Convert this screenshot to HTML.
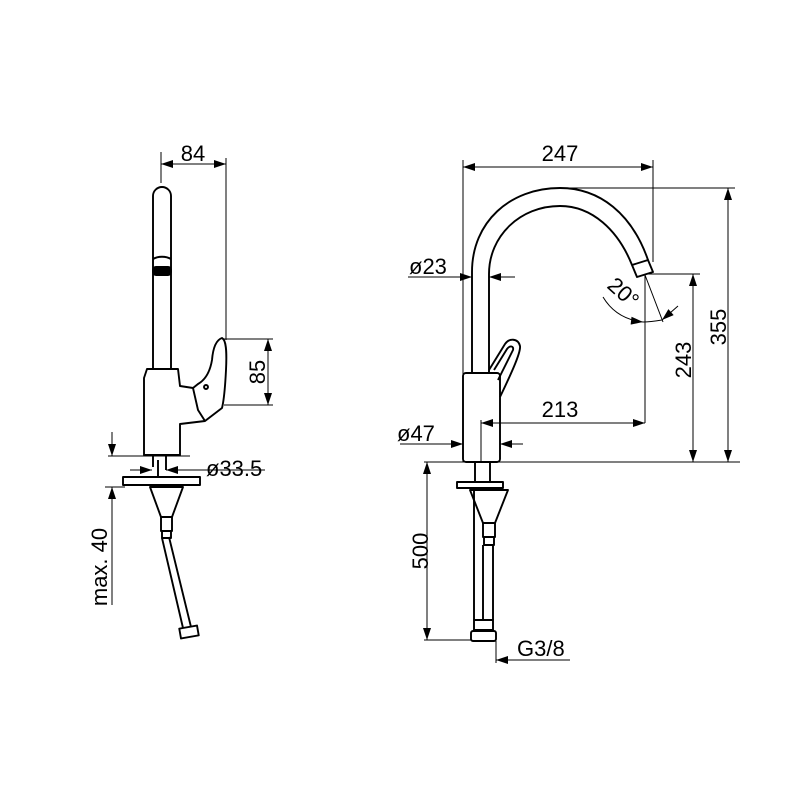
<!DOCTYPE html>
<html><head><meta charset="utf-8"><style>html,body{margin:0;padding:0;background:#fff}svg{display:block}text{font-family:"Liberation Sans",sans-serif;font-size:22px;fill:#000}</style></head>
<body>
<svg width="800" height="800" viewBox="0 0 800 800" xmlns="http://www.w3.org/2000/svg">
<defs>
<marker id="a" viewBox="0 0 12 8" refX="12" refY="4" markerWidth="13" markerHeight="8" markerUnits="userSpaceOnUse" orient="auto-start-reverse"><path d="M0,0 L12,4 L0,8 Z" fill="#000"/></marker>
</defs>
<g fill="none" stroke="#000" stroke-width="1.9" stroke-linejoin="round">
<!-- LEFT FAUCET -->
<path d="M153,369 L153,196 A9,9 0 0 1 171,196 L171,369"/>
<path d="M153,259 C158,256 166,256 171,259"/>
<rect x="153" y="267" width="18" height="8" rx="3" fill="#000"/>
<path d="M147,369 L178,369 L180,386 L193,388 L198,384 C205,380 210,372 212,360 C213,348 216,340 222,338 C226,340 227,350 226,370 C225,390 224,400 222,408 L205,421 L180,424 L180,455 L144,455 L144,378 Z"/>
<path d="M193,388 L198,410 L205,421"/>
<circle cx="206" cy="387" r="2"/>
<path d="M153,455 L153,467 M166,455 L166,470 M158,460 L158,477"/>
<rect x="123" y="477" width="77" height="8"/>
<path d="M150,487 L183,487 L172,517 L161,517 Z"/>
<rect x="161" y="517" width="11" height="14"/>
<rect x="162" y="531" width="9" height="7"/>
<path d="M162,538 L183,628 M169,537 L191,627"/>
<rect x="180" y="627" width="18" height="10" transform="rotate(-10 189 632)"/>
<!-- RIGHT FAUCET -->
<path d="M472,373 L472,272 C472,222 510,188 560,188 C600,188 632,214 648,260"/>
<path d="M489,373 L489,274 C489,236 520,206 560,206 C592,206 618,230 632,265"/>
<path d="M632,265 L648,260 L653,272 L637,277 Z"/>
<path d="M489,370 L505,344 C509,338 518,338 520,346 C521,352 512,372 500,397"/>
<path d="M494,370 L507,349 C510,345 514,346 513,350 L498,380"/>
<rect x="463" y="373" width="37" height="89" rx="3"/>
<path d="M475,462 L475,482 M490,462 L490,482"/>
<rect x="457" y="482" width="46" height="6"/>
<path d="M470,490 L508,490 L495,523 L483,523 Z"/>
<rect x="483" y="523" width="12" height="14"/>
<rect x="484" y="537" width="10" height="8"/>
<path d="M474,490 L474,620 M483,545 L483,620 M493,545 L493,620"/>
<rect x="474" y="620" width="19" height="10"/>
<rect x="471" y="631" width="25" height="10" rx="2"/>
</g>
<g fill="none" stroke="#000" stroke-width="1">
<path d="M161,152 L161,183 M226,158 L226,340"/>
<path d="M161,164 L226,164" marker-start="url(#a)" marker-end="url(#a)"/>
<path d="M222,339 L273,339 M224,405 L273,405"/>
<path d="M268,339 L268,405" marker-start="url(#a)" marker-end="url(#a)"/>
<path d="M130,470 L152,470" marker-end="url(#a)"/>
<path d="M265,470 L166,470" marker-end="url(#a)"/>
<path d="M108,456 L190,456 M105,487 L125,487"/>
<path d="M112,432 L112,456" marker-end="url(#a)"/>
<path d="M112,605 L112,487" marker-end="url(#a)"/>
<path d="M463,160 L463,462 M653,160 L653,262"/>
<path d="M463,167 L653,167" marker-start="url(#a)" marker-end="url(#a)"/>
<path d="M560,188 L735,188 M645,274 L700,274"/>
<path d="M728,188 L728,462" marker-start="url(#a)" marker-end="url(#a)"/>
<path d="M693,274 L693,462" marker-start="url(#a)" marker-end="url(#a)"/>
<path d="M645,274 L645,423 M481,420 L481,462"/>
<path d="M481,423 L645,423" marker-start="url(#a)" marker-end="url(#a)"/>
<path d="M408,277 L472,277" marker-end="url(#a)"/>
<path d="M515,277 L489,277" marker-end="url(#a)"/>
<path d="M400,444 L463,444" marker-end="url(#a)"/>
<path d="M523,444 L500,444" marker-end="url(#a)"/>
<path d="M424,462 L740,462 M424,640 L471,640"/>
<path d="M427,462 L427,640" marker-start="url(#a)" marker-end="url(#a)"/>
<path d="M496,641 L496,663"/>
<path d="M570,660 L496,660" marker-end="url(#a)"/>
<path d="M645,275 L663,322"/>
<path d="M603,297 C612,312 625,320 643,322" marker-end="url(#a)"/>
<path d="M643,322 C650,322 656,321 662,320"/>
<path d="M678,306 L662,320" marker-end="url(#a)"/>
</g>
<text x="193" y="161" text-anchor="middle">84</text>
<text transform="translate(265,372) rotate(-90)" text-anchor="middle">85</text>
<text x="206" y="476">ø33.5</text>
<text transform="translate(107,567) rotate(-90)" text-anchor="middle">max. 40</text>
<text x="560" y="161" text-anchor="middle">247</text>
<text transform="translate(726,327) rotate(-90)" text-anchor="middle">355</text>
<text transform="translate(691,360) rotate(-90)" text-anchor="middle">243</text>
<text x="560" y="417" text-anchor="middle">213</text>
<text x="409" y="274">ø23</text>
<text x="397" y="441">ø47</text>
<text transform="translate(606,287) rotate(42)">20°</text>
<text transform="translate(428,551) rotate(-90)" text-anchor="middle">500</text>
<text x="517" y="656">G3/8</text>
</svg>
</body></html>
